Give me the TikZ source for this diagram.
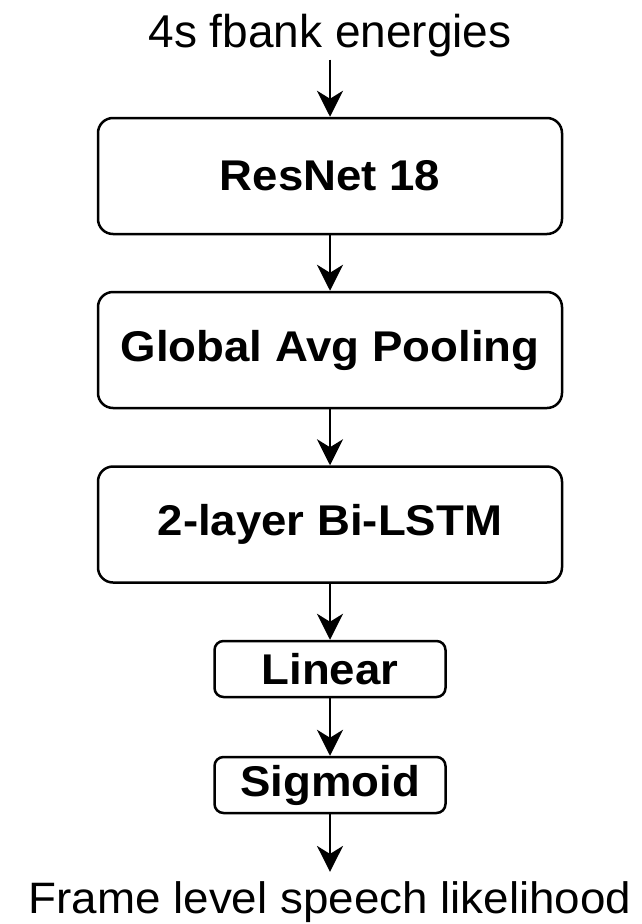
\documentclass[tikz,border=0pt]{standalone}
\usepackage{fontspec}
\setmainfont{Liberation Sans}
\newfontfamily\boxfont{Liberation Sans}[FakeStretch=1.06]
\newfontfamily\outfont{Liberation Sans}[FakeStretch=1.04]
\usetikzlibrary{arrows.meta}

\begin{document}
\begin{tikzpicture}[x=1pt,y=1pt,yscale=-1,xscale=1,
  bigbox/.style={draw, line width=2.5pt, rounded corners=15pt, minimum width=464pt, minimum height=116pt, inner sep=0pt, font=\boxfont\fontsize{43}{52}\selectfont\bfseries},
  smallbox/.style={draw, line width=2.5pt, rounded corners=9pt, minimum width=231pt, minimum height=56pt, inner sep=0pt, font=\boxfont\fontsize{43}{52}\selectfont\bfseries},
  label/.style={inner sep=3pt, font=\fontsize{46}{55}\selectfont},
  flow/.style={-{Stealth[length=26pt,width=26pt,inset=8pt]}, line width=2pt}]
%set diagram size to 641 x 924
\useasboundingbox (0,0) rectangle (641,924);

\node (input) [label, anchor=base] at (330,47) {4s fbank energies};
\node (resnet) [bigbox] at (330,176) {ResNet 18};
\node (pool) [bigbox] at (330,350) {Global Avg Pooling};
\node (lstm) [bigbox] at (330,524.5) {2-layer Bi-LSTM};
\node (linear) [smallbox] at (330,669) {Linear};
\node (sigmoid) [smallbox] at (330,785) {Sigmoid};
\node (output) [label, anchor=base, inner sep=9pt, font=\outfont\fontsize{44}{53}\selectfont] at (330,913) {Frame level speech likelihood};

\draw [flow] (input) -- (resnet);
\draw [flow] (resnet) -- (pool);
\draw [flow] (pool) -- (lstm);
\draw [flow] (lstm) -- (linear);
\draw [flow] (linear) -- (sigmoid);
\draw [flow] (sigmoid) -- (output);

\end{tikzpicture}
\end{document}
